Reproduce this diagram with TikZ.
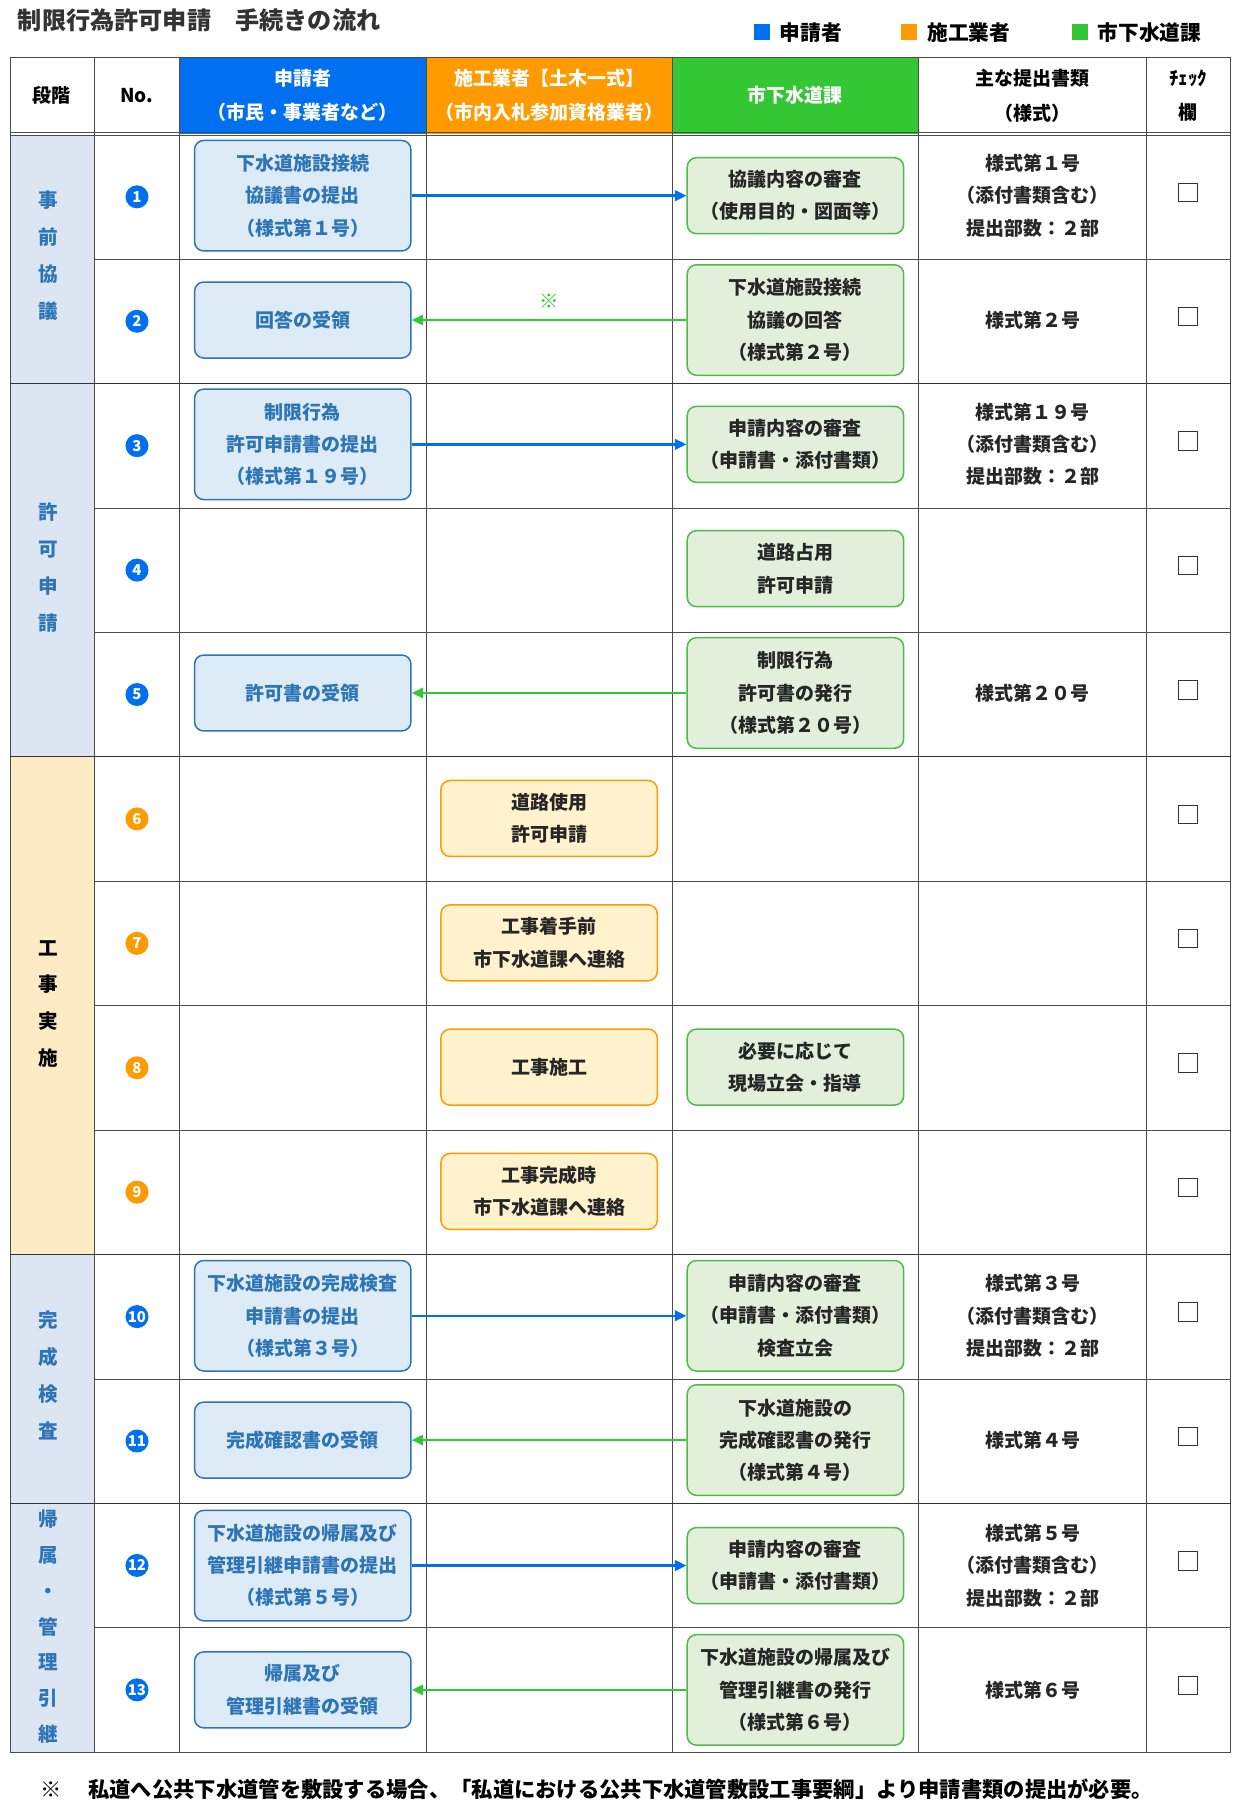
\documentclass[tikz,border=0pt]{standalone}
\usepackage{fontspec}
\setmainfont{Noto Sans CJK JP}
\usetikzlibrary{arrows.meta}
\definecolor{hblue}{HTML}{0070F0}
\definecolor{horange}{HTML}{FF9A00}
\definecolor{hgreen}{HTML}{33C733}
\definecolor{sblue}{HTML}{DCE6F2}
\definecolor{sorange}{HTML}{FDEBC6}
\definecolor{tblue}{HTML}{2E75B6}
\definecolor{bfill}{HTML}{DDEBF7}
\definecolor{yfill}{HTML}{FFF2CC}
\definecolor{gfill}{HTML}{E2EFDA}
\definecolor{gline}{HTML}{4CBB47}
\begin{document}
\begin{tikzpicture}[x=1pt,y=-1pt,
  txt/.style={font=\fontsize{16.5}{28}\selectfont\bfseries,align=center,text=black!85},
  box/.style={txt,rounded corners=8pt,line width=1.3pt,minimum width=188pt,text width=186pt,inner sep=0pt},
  abox/.style={box,draw=tblue,fill=bfill,text=tblue},
  ybox/.style={box,draw=horange,fill=yfill,text=black!85},
  gbox/.style={box,draw=gline,fill=gfill,text=black!85},
  h3/.style={minimum height=96pt}, h2/.style={minimum height=66pt},
  num/.style={circle,fill=#1,text=white,inner sep=0pt,minimum size=20pt,font=\fontsize{13}{13}\selectfont\bfseries},
  stage/.style={font=\fontsize{17}{32}\selectfont\bfseries,text=tblue,align=center},
  barrow/.style={draw=hblue,line width=2.2pt,-{Triangle[length=10pt,width=9pt]}},
  garrow/.style={draw=hgreen,line width=2.2pt,-{Triangle[length=10pt,width=9pt]}},
  hdr/.style={font=\fontsize{16.5}{30}\selectfont\bfseries,align=center}]
\useasboundingbox (0,0) rectangle (1077,1568);
\fill[white] (0,0) rectangle (1077,1568);
% title and legend
\node[anchor=west,font=\fontsize{21}{22}\selectfont\bfseries,text=black!80] (title) at (12,18) {制限行為許可申請　手続きの流れ};
\fill[hblue] (655,21) rectangle (669,35); \node[anchor=west,font=\fontsize{18}{20}\selectfont\bfseries] (l1) at (674,28) {申請者};
\fill[horange] (783,21) rectangle (797,35); \node[anchor=west,font=\fontsize{18}{20}\selectfont\bfseries] (l2) at (802,28) {施工業者};
\fill[hgreen] (931,21) rectangle (945,35); \node[anchor=west,font=\fontsize{18}{20}\selectfont\bfseries] (l3) at (950,28) {市下水道課};
% header fills
\fill[hblue] (156,50) rectangle (370,116);
\fill[horange] (370,50) rectangle (584,116);
\fill[hgreen] (584,50) rectangle (798,116);
% stage fills
\fill[sblue] (9,117) rectangle (82,657);
\fill[sorange] (9,657) rectangle (82,1089);
\fill[sblue] (9,1089) rectangle (82,1522);
% grid
\draw[black!70,line width=0.6pt] (9,50) rectangle (1069,1522);
\foreach \x in {82,156,370,584,798,996} \draw[black!70,line width=0.6pt] (\x,50) -- (\x,1522);
\draw[black!70,line width=0.6pt] (9,115) -- (1069,115) (9,118) -- (1069,118);
\foreach \i in {1,...,12} {\pgfmathsetmacro\yy{117+108.08*\i}\draw[black!70,line width=0.6pt] (82,\yy) -- (1069,\yy);}
\foreach \y in {333.2,657.4,1089.7,1305.9} \draw[black!80,line width=1.2pt] (9,\y) -- (1069,\y);
% header text
\node[hdr] (h1) at (45,83) {段階};
\node[hdr] (h2) at (119,83) {No.};
\node[hdr,text=white] (h3) at (263,83) {申請者\\（市民・事業者など）};
\node[hdr,text=white] (h4) at (477,83) {施工業者【土木一式】\\（市内入札参加資格業者）};
\node[hdr,text=white] (h5) at (691,83) {市下水道課};
\node[hdr] (h6) at (897,83) {主な提出書類\\（様式）};
\node[hdr] (h7) at (1032,83) {ﾁｪｯｸ\\欄};
% stages
\node[stage] (st1) at (42,222) {事\\前\\協\\議};
\node[stage] (st2) at (42,493) {許\\可\\申\\請};
\node[stage,text=black] (st3) at (42,872) {工\\事\\実\\施};
\node[stage] (st4) at (42,1195) {完\\成\\検\\査};
\node[stage,font=\fontsize{17}{31}\selectfont\bfseries] (st5) at (42,1413) {帰\\属\\・\\管\\理\\引\\継};
% numbers and checkboxes
\foreach \i/\c in {1/hblue,2/hblue,3/hblue,4/hblue,5/hblue,6/horange,7/horange,8/horange,9/horange,10/hblue,11/hblue,12/hblue,13/hblue} {
  \pgfmathsetmacro\yy{171+108.08*(\i-1)}
  \node[num=\c] (n\i) at (119,\yy) {\i};
  \draw[black!80,line width=0.8pt] (1024,\yy-12) rectangle ++(16,16);
}
% row 1
\node[abox,h3] (a1) at (263,170) {下水道施設接続\\協議書の提出\\（様式第１号）};
\node[gbox,h2] (c1) at (691,170) {協議内容の審査\\（使用目的・図面等）};
\node[txt] (d1) at (897,170) {様式第１号\\（添付書類含む）\\提出部数：２部};
\draw[barrow] (a1) -- (c1);
% row 2
\node[abox,h2] (a2) at (263,278) {回答の受領};
\node[gbox,h3] (c2) at (691,278) {下水道施設接続\\協議の回答\\（様式第２号）};
\node[txt] (d2) at (897,278) {様式第２号};
\draw[garrow] (c2) -- (a2);
\node[font=\fontsize{17}{17}\selectfont,text=hgreen] (k2) at (477,262) {※};
% row 3
\node[abox,h3] (a3) at (263,386) {制限行為\\許可申請書の提出\\（様式第１９号）};
\node[gbox,h2] (c3) at (691,386) {申請内容の審査\\（申請書・添付書類）};
\node[txt] (d3) at (897,386) {様式第１９号\\（添付書類含む）\\提出部数：２部};
\draw[barrow] (a3) -- (c3);
% row 4
\node[gbox,h2] (c4) at (691,494) {道路占用\\許可申請};
% row 5
\node[abox,h2] (a5) at (263,602) {許可書の受領};
\node[gbox,h3] (c5) at (691,602) {制限行為\\許可書の発行\\（様式第２０号）};
\node[txt] (d5) at (897,602) {様式第２０号};
\draw[garrow] (c5) -- (a5);
% rows 6-9
\node[ybox,h2] (y6) at (477,711) {道路使用\\許可申請};
\node[ybox,h2] (y7) at (477,819) {工事着手前\\市下水道課へ連絡};
\node[ybox,h2] (y8) at (477,927) {工事施工};
\node[gbox,h2] (c8) at (691,927) {必要に応じて\\現場立会・指導};
\node[ybox,h2] (y9) at (477,1035) {工事完成時\\市下水道課へ連絡};
% row 10
\node[abox,h3] (a10) at (263,1143) {下水道施設の完成検査\\申請書の提出\\（様式第３号）};
\node[gbox,h3] (c10) at (691,1143) {申請内容の審査\\（申請書・添付書類）\\検査立会};
\node[txt] (d10) at (897,1143) {様式第３号\\（添付書類含む）\\提出部数：２部};
\draw[barrow] (a10) -- (c10);
% row 11
\node[abox,h2] (a11) at (263,1251) {完成確認書の受領};
\node[gbox,h3] (c11) at (691,1251) {下水道施設の\\完成確認書の発行\\（様式第４号）};
\node[txt] (d11) at (897,1251) {様式第４号};
\draw[garrow] (c11) -- (a11);
% row 12
\node[abox,h3] (a12) at (263,1360) {下水道施設の帰属及び\\管理引継申請書の提出\\（様式第５号）};
\node[gbox,h2] (c12) at (691,1360) {申請内容の審査\\（申請書・添付書類）};
\node[txt] (d12) at (897,1360) {様式第５号\\（添付書類含む）\\提出部数：２部};
\draw[barrow] (a12) -- (c12);
% row 13
\node[abox,h2] (a13) at (263,1468) {帰属及び\\管理引継書の受領};
\node[gbox,h3] (c13) at (691,1468) {下水道施設の帰属及び\\管理引継書の発行\\（様式第６号）};
\node[txt] (d13) at (897,1468) {様式第６号};
\draw[garrow] (c13) -- (a13);
% footnote
\node[anchor=west,font=\fontsize{18.5}{19}\selectfont\bfseries] (fn) at (32,1554) {※　 私道へ公共下水道管を敷設する場合、「私道における公共下水道管敷設工事要綱」より申請書類の提出が必要。};
\end{tikzpicture}
\end{document}
